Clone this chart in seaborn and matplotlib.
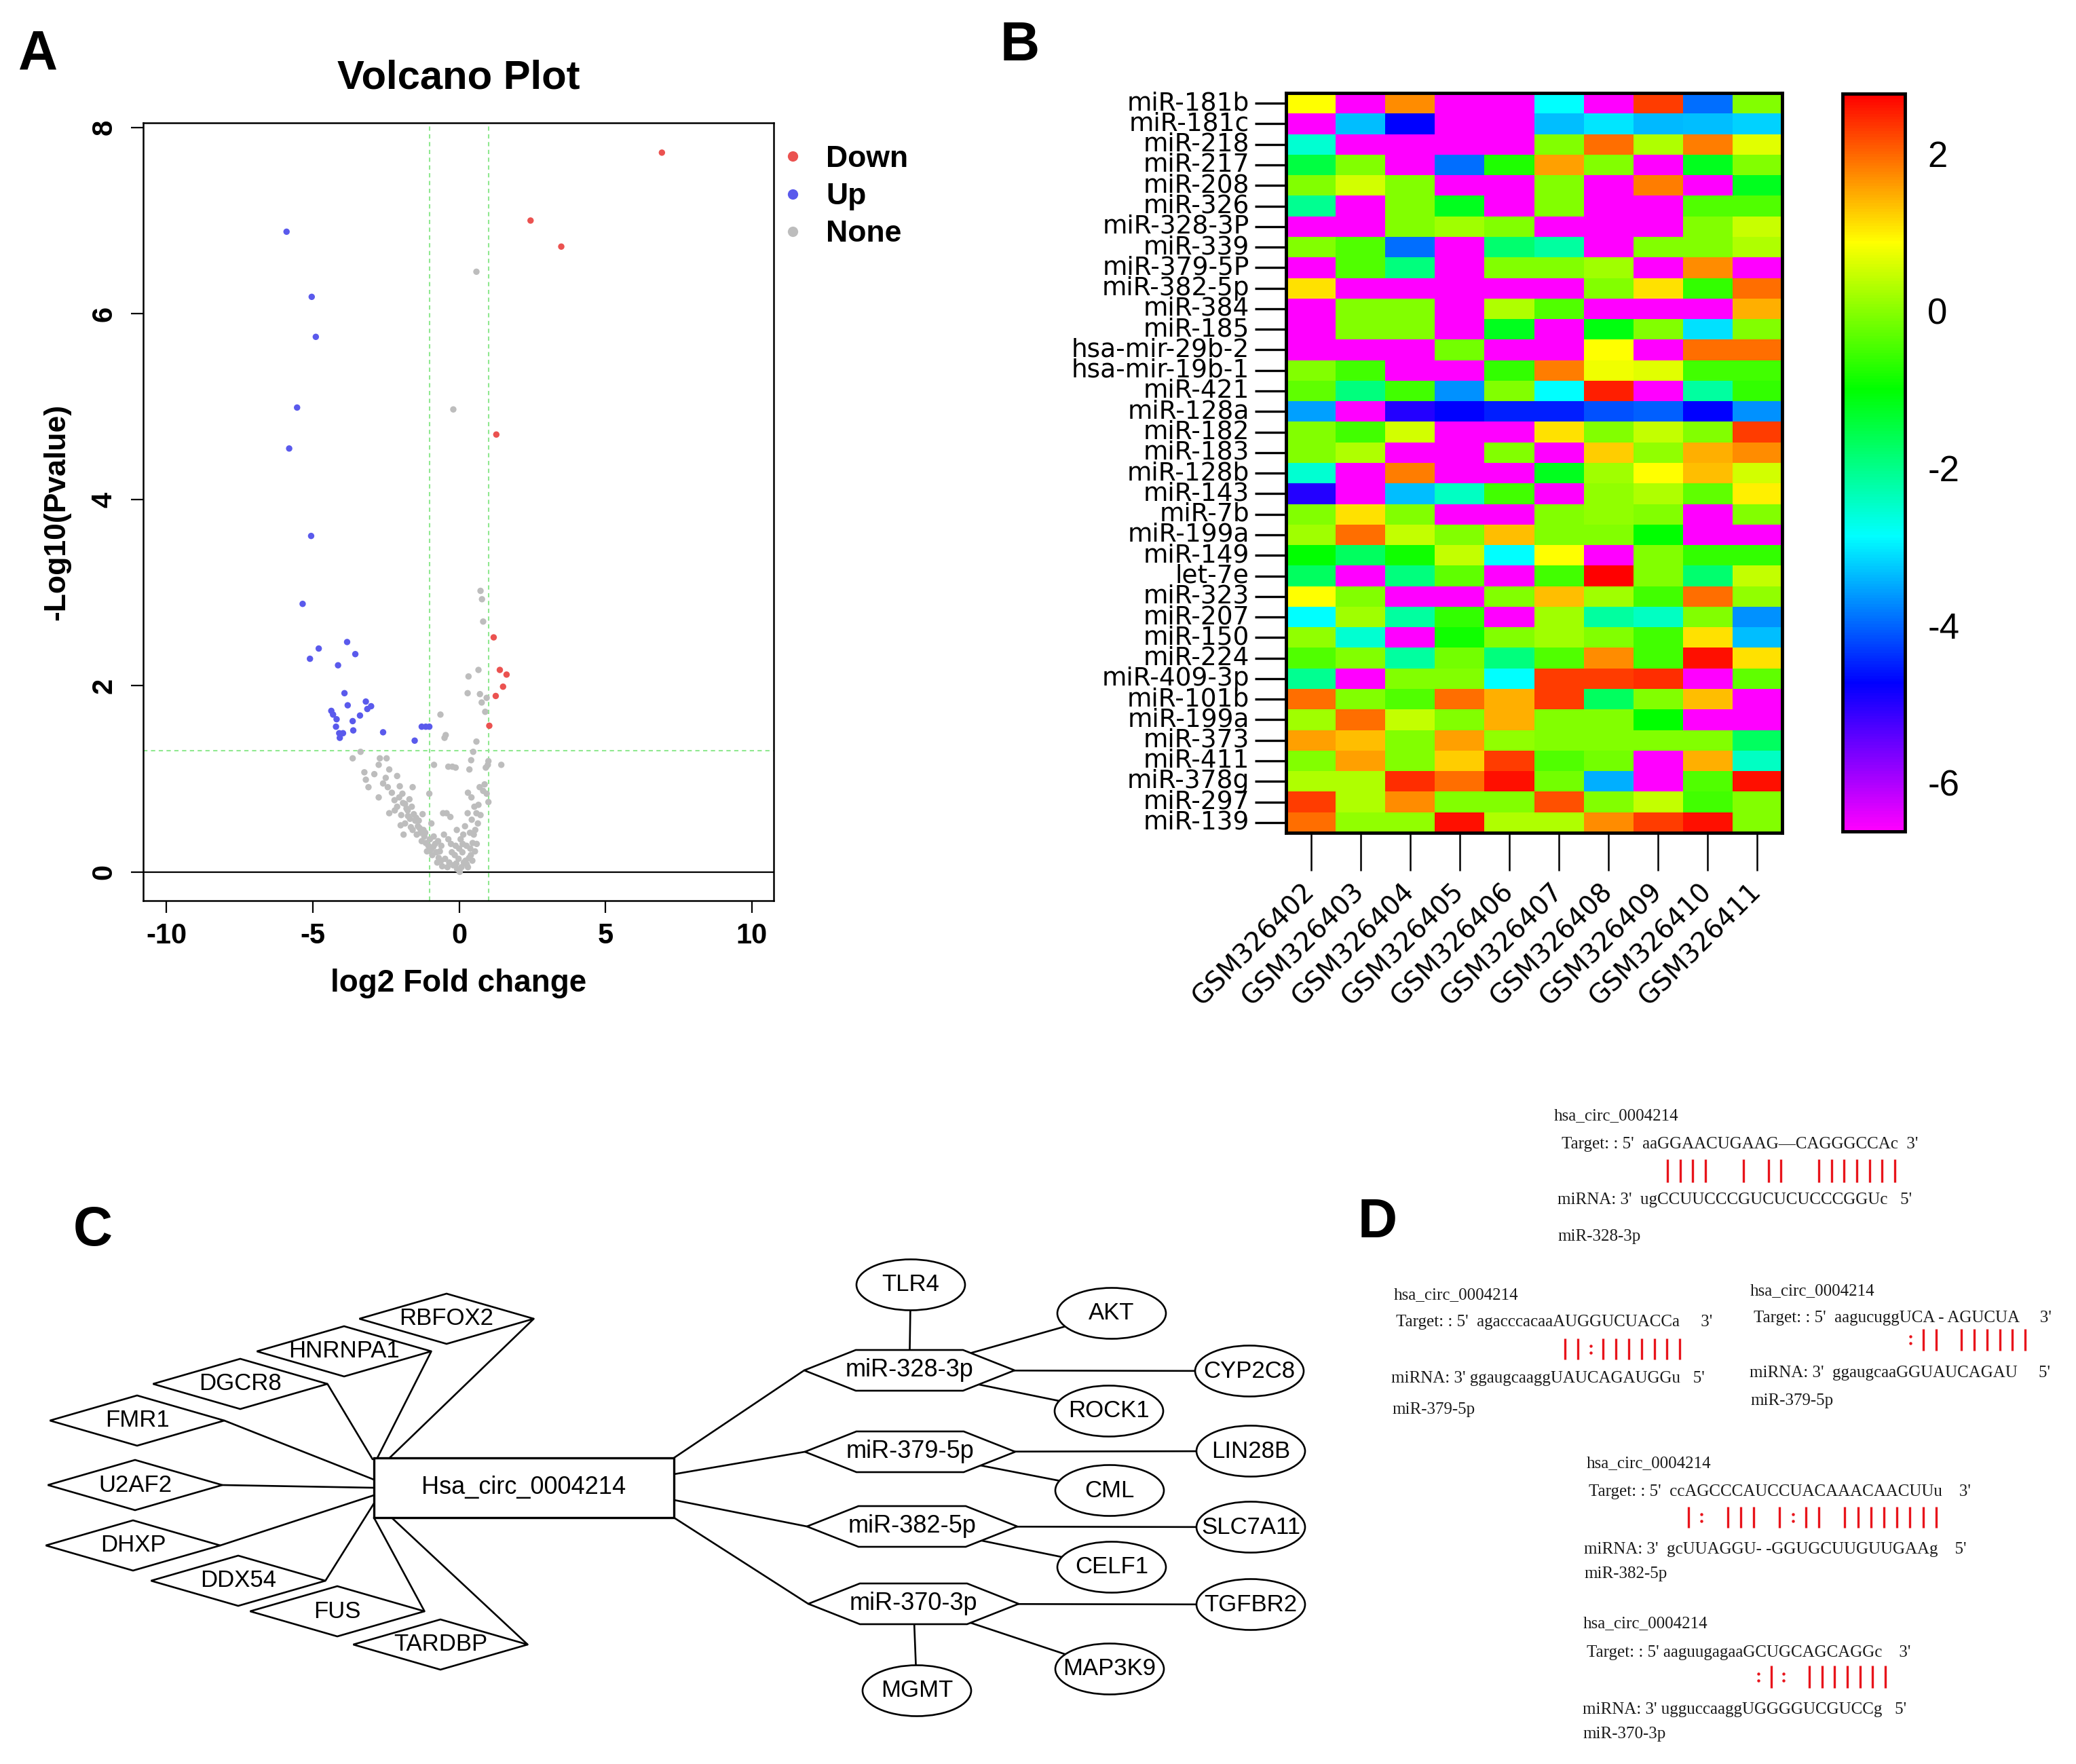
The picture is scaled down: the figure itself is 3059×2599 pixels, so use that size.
import numpy as np
import pandas as pd
import matplotlib
matplotlib.use('Agg')
import matplotlib.pyplot as plt
import seaborn as sns
from matplotlib.colors import LinearSegmentedColormap
from matplotlib.patches import Polygon, Rectangle, Ellipse
from matplotlib.lines import Line2D
from matplotlib import font_manager

# ---------------- data: volcano plot ----------------
down_x = [6.93, 2.44, 3.49, 1.27, 1.18, 1.39, 1.62, 1.50, 1.25, 1.03]
down_y = [7.73, 7.00, 6.72, 4.70, 2.52, 2.17, 2.12, 1.99, 1.89, 1.57]

up_x = [-5.90, -5.04, -4.90, -5.54, -5.81, -5.06, -5.35, -4.80, -5.10, -3.83, -3.55,
        -4.14, -3.92, -3.81, -3.19, -3.01, -3.14, -3.39, -3.64, -3.62, -4.37, -4.31,
        -4.19, -4.21, -4.10, -3.97, -4.08, -2.60, -1.52, -1.28, -1.14, -1.02]
up_y = [6.88, 6.18, 5.75, 4.99, 4.55, 3.61, 2.88, 2.40, 2.29, 2.47, 2.34,
        2.22, 1.92, 1.79, 1.83, 1.78, 1.75, 1.68, 1.62, 1.52, 1.73, 1.69,
        1.64, 1.56, 1.49, 1.49, 1.44, 1.50, 1.41, 1.56, 1.56, 1.56]

none_x = [0.59, -0.20, 0.73, 0.78, 0.82, 0.66, 0.32, 0.29, 0.71, 0.94, 0.77, 0.89, -0.64,
          -0.46, -0.50, 0.59, 0.48, 1.44, 1.00, 0.98, 0.41, 0.35, -0.37, -0.23, -0.12, -0.86,
          -3.64, -3.37, -3.24, -3.19, -3.10, -2.71, -2.48, -2.75, -2.39, -2.12, -2.51, -2.44,
          -2.75, -2.39, -2.21, -2.03, -1.94, -2.12, -1.85, -1.76, -1.59, -1.98, -1.68, -1.50,
          -1.85, -1.41, -1.59, -1.32, -1.19, -1.14, -1.05, -0.96, -0.87, -0.78, -0.70, -0.61,
          -0.55, -0.43, -0.30, -0.37, -0.48, -0.34, -0.25, -0.20, -0.12, -0.07, -0.02, 0.02,
          0.05, 0.11, 0.16, 0.20, 0.25, 0.29, 0.34, 0.37, 0.43, 0.46, 0.52, 0.55, 0.59, 0.64,
          0.70, 0.73, 0.82, 0.87, 0.94, 1.00, 0.91, -1.02,
          -1.75, -1.65, -1.55, -1.45, -1.38, -1.28, -1.22, -1.10, -1.00, -0.92, -0.82, -0.75,
          -0.66, -0.58, -0.52, -0.40, -0.28, -0.15, -0.08, 0.00, 0.08, 0.14, 0.22, 0.30,
          0.38, 0.45, 0.50, 0.60, 0.66, 0.42, 0.30, -2.00, -2.30, -2.60, -2.90, -1.90,
          -1.70, -1.25, -0.95, -1.80, -1.62, -1.47, -1.35, -1.16, -0.88, -0.72, -0.62,
          -0.10, 0.12, 0.26, 0.40, 0.54, -2.20, -2.05, -1.92]
none_y = [6.45, 4.97, 3.02, 2.93, 2.69, 2.17, 2.10, 1.92, 1.91, 1.87, 1.82, 1.72, 1.69,
          1.47, 1.44, 1.40, 1.29, 1.15, 1.19, 1.15, 1.20, 1.10, 1.13, 1.13, 1.12, 1.15,
          1.22, 1.29, 1.07, 0.99, 0.91, 1.22, 1.22, 1.15, 1.10, 1.03, 1.01, 0.91,
          0.80, 0.63, 0.77, 0.92, 0.84, 0.70, 0.73, 0.66, 0.91, 0.61, 0.57, 0.55,
          0.52, 0.49, 0.45, 0.42, 0.38, 0.31, 0.28, 0.24, 0.38, 0.21, 0.15, 0.28,
          0.63, 0.63, 0.59, 0.35, 0.14, 0.10, 0.21, 0.07, 0.28, 0.03, 0.14, 0.00,
          0.35, 0.21, 0.10, 0.49, 0.28, 0.63, 0.15, 0.42, 0.56, 0.31, 0.70, 0.45, 0.63, 0.52,
          0.91, 0.61, 0.87, 0.94, 0.84, 0.75, 1.12, 0.84,
          0.60, 0.48, 0.62, 0.40, 0.55, 0.33, 0.45, 0.22, 0.35, 0.18, 0.30, 0.10,
          0.22, 0.06, 0.40, 0.05, 0.30, 0.18, 0.45, 0.25, 0.05, 0.40, 0.12, 0.05,
          0.25, 0.12, 0.40, 0.30, 0.72, 0.80, 0.85, 0.50, 0.85, 0.95, 1.05, 0.40,
          0.78, 0.62, 0.52, 0.68, 0.70, 0.58, 0.47, 0.42, 0.27, 0.33, 0.12,
          0.09, 0.30, 0.08, 0.18, 0.22, 0.66, 0.80, 0.74]

volcano_xticks = [-10, -5, 0, 5, 10]
volcano_yticks = [0, 2, 4, 6, 8]

# ---------------- data: heatmap ----------------
mirnas = ['miR-181b', 'miR-181c', 'miR-218', 'miR-217', 'miR-208', 'miR-326', 'miR-328-3P',
          'miR-339', 'miR-379-5P', 'miR-382-5p', 'miR-384', 'miR-185', 'hsa-mir-29b-2',
          'hsa-mir-19b-1', 'miR-421', 'miR-128a', 'miR-182', 'miR-183', 'miR-128b', 'miR-143',
          'miR-7b', 'miR-199a', 'miR-149', 'let-7e', 'miR-323', 'miR-207', 'miR-150', 'miR-224',
          'miR-409-3p', 'miR-101b', 'miR-199a', 'miR-373', 'miR-411', 'miR-378g', 'miR-297',
          'miR-139']
samples = ['GSM326402', 'GSM326403', 'GSM326404', 'GSM326405', 'GSM326406',
           'GSM326407', 'GSM326408', 'GSM326409', 'GSM326410', 'GSM326411']
expr_rows = [
    [0.88, -6.6, 1.73, -6.6, -6.6, -2.87, -6.6, 2.29, -3.92, -0.05],
    [-6.6, -3.33, -4.74, -6.6, -6.6, -3.33, -3.04, -3.39, -3.33, -3.21],
    [-2.52, -6.6, -6.6, -6.6, -6.6, -0.05, 1.93, 0.30, 1.82, 0.66],
    [-1.46, -0.05, -6.6, -3.92, -0.76, 1.58, -0.05, -6.6, -1.23, -0.05],
    [-0.05, 0.54, -0.05, -6.6, -6.6, -0.05, -6.6, 1.82, -6.6, -1.23],
    [-2.05, -6.6, -0.05, -1.23, -6.6, -0.05, -6.6, -6.6, -0.40, -0.40],
    [-6.6, -6.6, -0.05, 0.18, -0.05, -6.6, -6.6, -6.6, -0.05, 0.48],
    [-0.05, -0.40, -3.92, -6.6, -1.82, -2.17, -6.6, -0.05, -0.05, 0.30],
    [-6.6, -0.40, -1.93, -6.6, -0.05, -0.05, 0.18, -6.6, 1.70, -6.6],
    [1.11, -6.6, -6.6, -6.6, -6.6, -6.6, -0.05, 1.11, -0.64, 1.93],
    [-6.6, -0.05, -0.05, -6.6, 0.30, -0.40, -6.6, -6.6, -6.6, 1.47],
    [-6.6, -0.05, -0.05, -6.6, -1.23, -6.6, -1.11, -0.05, -3.10, -0.05],
    [-6.6, -6.6, -6.6, -0.17, -6.6, -6.6, 0.88, -6.6, 1.93, 1.93],
    [-0.05, -0.52, -6.6, -6.6, -0.64, 1.82, 0.77, 0.65, -0.52, -0.52],
    [-0.29, -1.93, -0.52, -3.68, -0.05, -2.87, 2.53, -6.6, -2.17, -0.64],
    [-3.57, -6.6, -4.98, -4.74, -4.51, -4.51, -4.16, -4.04, -4.74, -3.68],
    [-0.05, -0.52, 0.54, -6.6, -6.6, 1.11, -0.05, 0.42, -0.05, 2.29],
    [-0.05, 0.30, -6.6, -6.6, -0.05, -6.6, 1.23, 0.07, 1.47, 1.70],
    [-2.52, -6.6, 1.82, -6.6, -6.6, -1.23, 0.18, 0.88, 1.35, 0.54],
    [-4.98, -6.6, -3.33, -2.41, -0.52, -6.6, 0.07, 0.30, -0.29, 0.99],
    [-0.05, 1.11, -0.05, -6.6, -6.6, -0.05, 0.07, -0.05, -6.6, -0.05],
    [0.18, 1.93, 0.42, -0.05, 1.35, -0.05, -0.05, -0.99, -6.6, -6.6],
    [-0.99, -1.70, -0.87, 0.42, -2.87, 0.88, -6.6, -0.05, -0.64, -0.64],
    [-1.70, -6.6, -1.93, -0.29, -6.6, -0.52, 2.76, -0.05, -1.82, 0.42],
    [0.88, -0.05, -6.6, -6.6, -0.05, 1.35, 0.18, -0.52, 1.93, 0.07],
    [-2.87, 0.18, -2.17, -0.64, -6.6, 0.18, -2.17, -2.41, -0.05, -3.68],
    [0.07, -2.52, -6.6, -0.87, -0.05, 0.18, -0.05, -0.52, 1.11, -3.33],
    [-0.40, -0.05, -2.17, -0.17, -1.93, -0.40, 1.73, -0.52, 2.64, 1.11],
    [-2.05, -6.6, -0.05, -0.05, -2.87, 2.29, 2.29, 2.41, -6.6, -0.29],
    [1.93, -0.05, -0.40, 1.93, 1.47, 2.29, -1.70, -0.05, 1.35, -6.6],
    [0.18, 1.93, 0.42, -0.05, 1.47, -0.05, -0.05, -0.99, -6.6, -6.6],
    [1.58, 1.35, -0.05, 1.58, 0.07, -0.05, -0.05, -0.05, -0.05, -1.70],
    [-0.05, 1.58, -0.05, 1.23, 2.29, -0.40, -0.17, -6.6, 1.47, -2.41],
    [0.30, 0.30, 2.41, 1.93, 2.64, -0.17, -3.45, -6.6, -0.40, 2.64],
    [2.29, 0.30, 1.70, -0.05, -0.05, 2.17, -0.05, 0.42, -0.52, -0.05],
    [1.93, 0.07, 0.07, 2.64, 0.30, 0.30, 1.70, 2.29, 2.64, -0.05],
]
cbar_ticks = [2, 0, -2, -4, -6]

# ---------------- data: network ----------------
hub_name = 'Hsa_circ_0004214'
rbp_names = ['RBFOX2', 'HNRNPA1', 'DGCR8', 'FMR1', 'U2AF2', 'DHXP', 'DDX54', 'FUS', 'TARDBP']
mirna_nodes = ['miR-328-3p', 'miR-379-5p', 'miR-382-5p', 'miR-370-3p']
target_names = ['TLR4', 'AKT', 'CYP2C8', 'ROCK1', 'LIN28B', 'CML', 'SLC7A11', 'CELF1',
                'TGFBR2', 'MAP3K9', 'MGMT']
target_parent = [0, 0, 0, 0, 1, 1, 2, 2, 3, 3, 3]

# ---------------- data: binding sites ----------------
site_blocks = [
    dict(target="Target: : 5'  aaGGAACUGAAG\u2014CAGGGCCAc  3'",
         mirna="miRNA: 3'  ugCCUUCCCGUCUCUCCCGGUc   5'", name='miR-328-3p',
         pairing='||||  | ||  |||||||'),
    dict(target="Target: : 5'  agacccacaaAUGGUCUACCa     3'",
         mirna="miRNA: 3' ggaugcaaggUAUCAGAUGGu   5'", name='miR-379-5p',
         pairing='||:|||||||'),
    dict(target="Target: : 5'  aagucuggUCA - AGUCUA     3'",
         mirna="miRNA: 3'  ggaugcaaGGUAUCAGAU     5'", name='miR-379-5p',
         pairing=':|| ||||||'),
    dict(target="Target: : 5'  ccAGCCCAUCCUACAAACAACUUu    3'",
         mirna="miRNA: 3'  gcUUAGGU- -GGUGCUUGUUGAAg    5'", name='miR-382-5p',
         pairing='|: ||| |:|| ||||||||'),
    dict(target="Target: : 5' aaguugagaaGCUGCAGCAGGc    3'",
         mirna="miRNA: 3' ugguccaaggUGGGGUCGUCCg   5'", name='miR-370-3p',
         pairing=':|: |||||||'),
]

# ---------------- layout (pixels) ----------------
W, H = 3059, 2599
DPI = 100

sns.set_theme(style='white', rc={'text.color': 'black', 'axes.labelcolor': 'black',
                                 'xtick.color': 'black', 'ytick.color': 'black',
                                 'axes.edgecolor': 'black', 'axes.unicode_minus': False})
plt.rcParams['font.family'] = ['Liberation Sans', 'DejaVu Sans']
plt.rcParams['axes.unicode_minus'] = False

_names = {f.name for f in font_manager.fontManager.ttflist}
NARROW = 'Liberation Sans Narrow' if 'Liberation Sans Narrow' in _names else 'Liberation Sans'
SERIF = 'Liberation Serif' if 'Liberation Serif' in _names else 'DejaVu Serif'

fig = plt.figure(figsize=(W / DPI, H / DPI), dpi=DPI)
fig.patch.set_facecolor('white')


def rect(x0, y0, x1, y1):
    return [x0 / W, 1 - y1 / H, (x1 - x0) / W, (y1 - y0) / H]


canvas = fig.add_axes([0, 0, 1, 1])
canvas.set_xlim(0, W)
canvas.set_ylim(H, 0)
canvas.axis('off')

# panel letters
for letter, (lx, ly) in zip('ABCD', [(56, 80), (1503, 68), (137, 1814), (2030, 1802)]):
    canvas.text(lx, ly, letter, fontsize=58, fontweight='bold', ha='center', va='center',
                family=['Liberation Sans', 'DejaVu Sans'])

# ================= Panel A: volcano =================
axA = fig.add_axes(rect(211, 181, 1140, 1327))
vdf = pd.DataFrame({
    'log2FC': none_x + up_x + down_x,
    'nlog10p': none_y + up_y + down_y,
    'group': ['None'] * len(none_x) + ['Up'] * len(up_x) + ['Down'] * len(down_x),
})
palette = {'Down': '#EB5250', 'Up': '#5A5AEC', 'None': '#BDBDBD'}
sns.scatterplot(data=vdf, x='log2FC', y='nlog10p', hue='group', palette=palette,
                s=46, linewidth=0, legend=False, ax=axA, zorder=3)
axA.set_xlim(-10.8, 10.75)
axA.set_ylim(-0.31, 8.05)
axA.axhline(0, color='black', lw=1.6, zorder=2)
gl = dict(color='#8FE88F', ls=(0, (3, 2.5)), lw=1.5, zorder=1)
axA.axvline(-1, **gl)
axA.axvline(1, **gl)
axA.axhline(-np.log10(0.05), **gl)
axA.set_xticks(volcano_xticks)
axA.set_yticks(volcano_yticks)
axA.set_xticklabels([str(v) for v in volcano_xticks], fontweight='bold', fontsize=30)
axA.set_yticklabels([str(v) for v in volcano_yticks], fontweight='bold', fontsize=30,
                    rotation=90, va='center')
axA.tick_params(axis='both', direction='out', length=13, width=1.6, bottom=True, left=True)
axA.tick_params(axis='x', pad=10)
axA.tick_params(axis='y', pad=14)
for sp in axA.spines.values():
    sp.set_visible(True)
    sp.set_color('black')
    sp.set_linewidth(1.8)
axA.set_xlabel('log2 Fold change', fontsize=33, fontweight='bold')
axA.set_ylabel('-Log10(Pvalue)', fontsize=32, fontweight='bold')
axA.xaxis.label.set_va('center')
axA.yaxis.label.set_va('center')
axA.xaxis.set_label_coords(0.5, -0.1065)
axA.yaxis.set_label_coords(-0.137, 0.5)
canvas.text(676, 115, 'Volcano Plot', fontsize=43, fontweight='bold', ha='center', va='center')

handles = [Line2D([], [], marker='o', ls='', color=palette[g], markersize=11, markeredgewidth=0)
           for g in ['Down', 'Up', 'None']]
fig.legend(handles, ['Down', 'Up', 'None'], loc='upper left',
           bbox_to_anchor=(1146 / W, 1 - 214 / H), frameon=False,
           prop={'weight': 'bold', 'size': 32}, handlelength=1.0, handletextpad=0.6,
           labelspacing=0.32, borderpad=0, borderaxespad=0)

# ================= Panel B: heatmap =================
axB = fig.add_axes(rect(1895, 137, 2626, 1227))
cax = fig.add_axes(rect(2715, 138, 2807, 1225))
cmap = LinearSegmentedColormap.from_list(
    'rainbow6', ['#FF00FF', '#0000FF', '#00FFFF', '#00FF00', '#FFFF00', '#FF0000'])
hdf = pd.DataFrame(expr_rows, columns=samples)
sns.heatmap(hdf, cmap=cmap, vmin=-6.62, vmax=2.76, ax=axB, cbar_ax=cax,
            cbar_kws={'ticks': cbar_ticks}, xticklabels=samples, yticklabels=mirnas)
axB.set_yticklabels(mirnas, rotation=0, fontsize=27, family=['DejaVu Sans'])
axB.set_xticklabels(samples, rotation=45, ha='right', va='center', rotation_mode='anchor',
                    fontsize=28, family=['DejaVu Sans'])
axB.tick_params(axis='y', left=True, length=33, width=2.4, pad=6)
axB.tick_params(axis='x', bottom=True, length=40, width=1.8, pad=18)
for sp in axB.spines.values():
    sp.set_visible(True)
    sp.set_color('black')
    sp.set_linewidth(3.5)
cb = axB.collections[0].colorbar
cb.outline.set_linewidth(3.5)
cb.outline.set_edgecolor('black')
cb.ax.tick_params(direction='in', left=True, right=True, length=14, width=2,
                  labelsize=38, pad=24, color='black')
cb.ax.set_yticklabels([str(t) for t in cbar_ticks])

# ================= Panel C: network =================
hub_box = (551, 2148, 993, 2236)
rbp_xy = [(658, 1943), (507, 1991), (354, 2039), (202, 2093), (199, 2188),
          (196, 2277), (351, 2329), (497, 2374), (649, 2423)]
rbp_end = [(574, 2148), (556, 2148), (549, 2150), (551, 2180), (551, 2192),
           (551, 2203), (551, 2215), (551, 2236), (577, 2236)]
dia_w, dia_h = 257, 74
mir_xy = [(1340, 2019), (1341, 2139), (1344, 2249), (1346, 2363)]
hub_out = [(993, 2148), (993, 2172), (993, 2210), (993, 2236)]
hex_hw, hex_inset, hex_hh = 155, 76, 30
tgt_xy = [(1342, 1893), (1638, 1935), (1841, 2020), (1634, 2079), (1843, 2138),
          (1635, 2196), (1843, 2250), (1638, 2309), (1843, 2364), (1635, 2459), (1351, 2491)]
ell_w, ell_h = 160, 75
LW = 1.9

# edges
for (cx, cy), (ex, ey) in zip(rbp_xy, rbp_end):
    canvas.plot([cx + dia_w / 2, ex], [cy, ey], color='black', lw=LW, zorder=1)
for (sx, sy), (mx, my) in zip(hub_out, mir_xy):
    canvas.plot([sx, mx - hex_hw], [sy, my], color='black', lw=LW, zorder=1)
for (tx, ty), p in zip(tgt_xy, target_parent):
    mx, my = mir_xy[p]
    canvas.plot([mx, tx], [my, ty], color='black', lw=LW, zorder=1)

# nodes
for name, (cx, cy) in zip(rbp_names, rbp_xy):
    canvas.add_patch(Polygon([(cx - dia_w / 2, cy), (cx, cy - dia_h / 2), (cx + dia_w / 2, cy),
                              (cx, cy + dia_h / 2)], closed=True, facecolor='white',
                             edgecolor='black', lw=LW, zorder=2))
    canvas.text(cx, cy, name, fontsize=25, ha='center', va='center', family=[NARROW],
                zorder=3)
x0, y0, x1, y1 = hub_box
canvas.add_patch(Rectangle((x0, y0), x1 - x0, y1 - y0, facecolor='white',
                           edgecolor='black', lw=2.4, zorder=2))
canvas.text((x0 + x1) / 2, (y0 + y1) / 2, hub_name, fontsize=26, ha='center', va='center',
            family=[NARROW], zorder=3)
for name, (cx, cy) in zip(mirna_nodes, mir_xy):
    canvas.add_patch(Polygon([(cx - hex_hw, cy), (cx - hex_hw + hex_inset, cy - hex_hh),
                              (cx + hex_hw - hex_inset, cy - hex_hh), (cx + hex_hw, cy),
                              (cx + hex_hw - hex_inset, cy + hex_hh),
                              (cx - hex_hw + hex_inset, cy + hex_hh)], closed=True,
                             facecolor='white', edgecolor='black', lw=LW, zorder=2))
    canvas.text(cx, cy, name, fontsize=26, ha='center', va='center', family=[NARROW],
                zorder=3)
for name, (cx, cy) in zip(target_names, tgt_xy):
    canvas.add_patch(Ellipse((cx, cy), ell_w, ell_h, facecolor='white', edgecolor='black',
                             lw=LW, zorder=2))
    canvas.text(cx, cy, name, fontsize=25, ha='center', va='center', family=[NARROW],
                zorder=3)

# ================= Panel D: binding sites =================
block_pos = [  # header, target, miRNA, name (x, y) ; bar x0, pitch, bar y0, y1
    dict(h=(2290, 1644), t=(2301, 1686), m=(2295, 1768), n=(2295, 1822),
         bx=2457, bp=18.6, by=(1708, 1742)),
    dict(h=(2054, 1908), t=(2057, 1948), m=(2050, 2031), n=(2051, 2077),
         bx=2306, bp=18.8, by=(1972, 2003)),
    dict(h=(2579, 1902), t=(2584, 1942), m=(2578, 2023), n=(2579, 2064),
         bx=2815, bp=18.8, by=(1958, 1990)),
    dict(h=(2338, 2156), t=(2341, 2198), m=(2334, 2283), n=(2334, 2319),
         bx=2488, bp=19.2, by=(2220, 2251)),
    dict(h=(2333, 2392), t=(2338, 2435), m=(2332, 2519), n=(2332, 2555),
         bx=2591, bp=18.7, by=(2454, 2487)),
]
TXT = dict(fontsize=18, family=[SERIF], ha='left', va='center', color='#1a1a1a')
for blk, pos in zip(site_blocks, block_pos):
    canvas.text(*pos['h'], 'hsa_circ_0004214', **TXT)
    canvas.text(*pos['t'], blk['target'], **TXT)
    canvas.text(*pos['m'], blk['mirna'], **TXT)
    canvas.text(*pos['n'], blk['name'], **TXT)
    ya, yb = pos['by']
    for i, ch in enumerate(blk['pairing']):
        xx = pos['bx'] + i * pos['bp']
        if ch == '|':
            canvas.plot([xx, xx], [ya, yb], color='#E8141B', lw=2.4, solid_capstyle='butt')
        elif ch == ':':
            canvas.plot([xx, xx], [(ya + yb) / 2 - 5, (ya + yb) / 2 + 5], ls='',
                        marker='o', ms=2.2, color='#E8141B')

fig.savefig('out.png', dpi=DPI, facecolor='white')
